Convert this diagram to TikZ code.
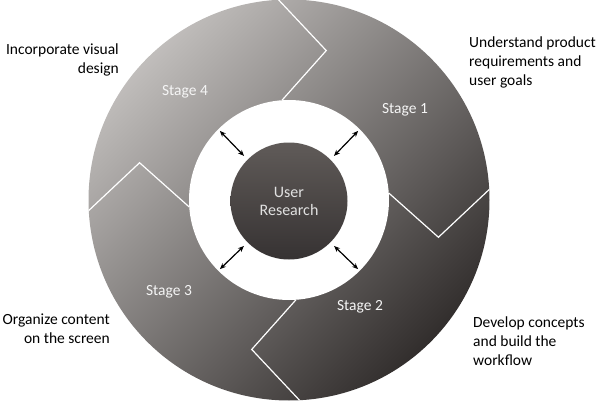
\documentclass[tikz,border=0pt]{standalone}
\usepackage{fontspec}
\setmainfont{Carlito}
\usetikzlibrary{arrows.meta}
\definecolor{ringlight}{RGB}{192,189,187}
\definecolor{ringdark}{RGB}{50,46,45}
\definecolor{hubtop}{RGB}{96,91,89}
\definecolor{hubbot}{RGB}{54,50,50}
\definecolor{stagetext}{RGB}{245,245,245}
\definecolor{hubtext}{RGB}{225,225,225}
\begin{document}
\begin{tikzpicture}[x=1pt,y=1pt,
  lbl/.style={font=\fontsize{15.5}{19}\selectfont, text=black, inner sep=0pt},
  stg/.style={font=\fontsize{15.5}{18}\selectfont, text=stagetext, inner sep=0pt},
  sep/.style={draw=white, line width=1.2pt, line join=miter},
  dbl/.style={{Stealth[length=6pt,width=5pt]}-{Stealth[length=6pt,width=5pt]}, line width=1.2pt, draw=black}
]
\useasboundingbox (0,0) rectangle (598,400);
\coordinate (c) at (289,200);
\shade[top color=ringlight, bottom color=ringdark, shading angle=45] (c) circle (200.5);
\node[circle, fill=white, minimum size=200pt, inner sep=0pt] (hole) at (c) {};
\begin{scope}[shift={(c)}]
  \draw[sep] (93:200.5) -- (76:154) -- (94:100);
  \draw[sep] (3:200.5) -- (-14:154) -- (4:100);
  \draw[sep] (273:200.5) -- (256:154) -- (274:100);
  \draw[sep] (183:200.5) -- (166:154) -- (184:100);
\end{scope}
\node[circle, minimum size=117pt, inner sep=0pt, top color=hubtop, bottom color=hubbot,
      text=hubtext, font=\fontsize{16}{18}\selectfont, align=center] (ur) at (289,199) {User\\Research};
\draw[dbl, shorten <=2.5pt, shorten >=5pt] (hole.135) -- (ur.135);
\draw[dbl, shorten <=2.5pt, shorten >=5pt] (hole.45) -- (ur.45);
\draw[dbl, shorten <=2.5pt, shorten >=5pt] (hole.225) -- (ur.225);
\draw[dbl, shorten <=2.5pt, shorten >=5pt] (hole.315) -- (ur.315);
\node[stg] (s4) at (185,308) {Stage 4};
\node[stg] (s1) at (405,290) {Stage 1};
\node[stg] (s3) at (169,108) {Stage 3};
\node[stg] (s2) at (360,93) {Stage 2};
\node[lbl, anchor=east, align=right] (l4) at (119,340) {Incorporate visual\\design};
\node[lbl, anchor=west, align=left] (l1) at (469,338) {Understand product\\requirements and\\user goals};
\node[lbl, anchor=east, align=right] (l3) at (110,71) {Organize content\\on the screen};
\node[lbl, anchor=west, align=left] (l2) at (473,59) {Develop concepts\\and build the\\workflow};
\end{tikzpicture}
\end{document}
